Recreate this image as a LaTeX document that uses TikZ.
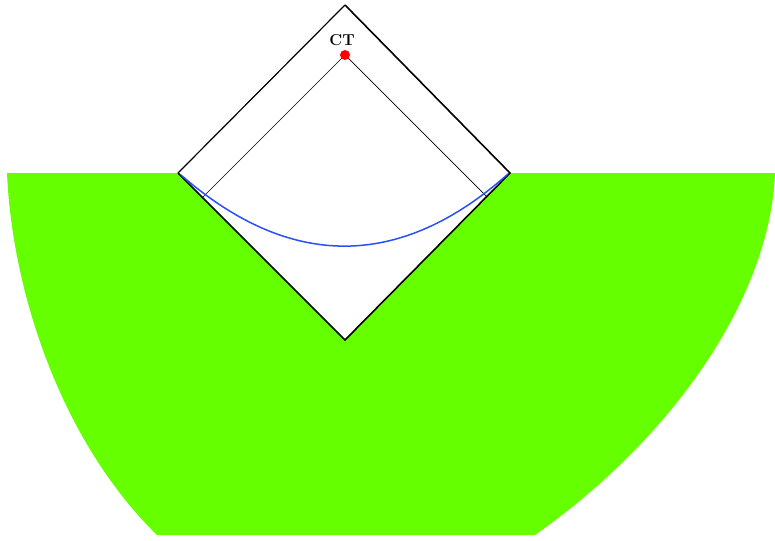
\documentclass[tikz,border=0pt]{standalone}
\usepackage{tikz}
\definecolor{grasgruen}{RGB}{102,255,0}
\definecolor{kurvenblau}{RGB}{40,80,255}

\begin{document}
\begin{tikzpicture}[x=1pt, y=-1pt, thick]
\useasboundingbox (0,0) rectangle (775,540);

% Ecken der Raute
\coordinate (oben) at (345,5);
\coordinate (links) at (178,173);
\coordinate (rechts) at (510,173);
\coordinate (unten) at (345,340);

% Punkt CT und Enden der Lichtstrahlen
\coordinate (ct) at (345,55);
\coordinate (strahlL) at (202.5,197.5);
\coordinate (strahlR) at (486.5,196.5);

% Gruene Flaeche
\fill[grasgruen] (7,173) .. controls (12,290) and (60,440) .. (157,535)
    -- (535,535) .. controls (670,440) and (770,300) .. (775,173) -- cycle;

% Raute
\fill[white] (links) -- (oben) -- (rechts) -- (unten) -- cycle;
\draw[line width=1.2pt] (links) -- (oben);
\draw[line width=1.6pt] (oben) -- (rechts) -- (unten) -- (links);

% Lichtstrahlen
\draw[line width=0.7pt] (strahlL) -- (ct) -- (strahlR);

% Blaue Kurve
\draw[kurvenblau, line width=1.5pt] (181,175) .. controls (290,270) and (400,270) .. (508,174);

% Punkt mit Beschriftung
\fill[red] (ct) circle (5);
\node[font=\bfseries\Large, scale=1.1] (ctlabel) at (342,40) {CT};

\end{tikzpicture}
\end{document}
